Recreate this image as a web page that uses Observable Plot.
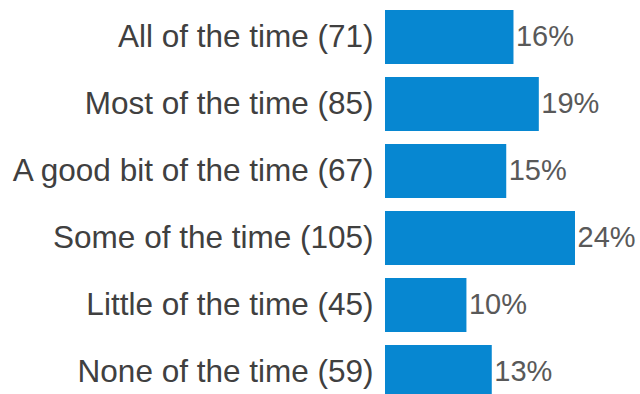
<!DOCTYPE html>
<html>
<head>
<meta charset="utf-8">
<script src="https://cdn.jsdelivr.net/npm/d3@7"></script>
<script src="https://cdn.jsdelivr.net/npm/@observablehq/plot@0.6"></script>
<style>
  html, body { margin: 0; padding: 0; background: #fff; overflow: hidden; }
  #chart svg { display: block; }
</style>
</head>
<body>
<div id="chart"></div>
<script>
const categories = ["All of the time", "Most of the time", "A good bit of the time", "Some of the time", "Little of the time", "None of the time"];
const counts = [71, 85, 67, 105, 45, 59];
const pctLabels = ["16%", "19%", "15%", "24%", "10%", "13%"];

const total = d3.sum(counts);
const data = categories.map((c, i) => ({
  label: `${c} (${counts[i]})`,
  share: counts[i] / total * 100,
  pct: pctLabels[i]
}));

const chart = Plot.plot({
  width: 640,
  height: 394,
  marginLeft: 385,
  marginRight: 65,
  style: {fontFamily: "'Liberation Sans', Arial, sans-serif", color: "#595959", background: "#fff"},
  x: {domain: [0, 105 / total * 100], axis: null},
  y: {domain: data.map(d => d.label), range: [1, 408], paddingInner: 0.2, paddingOuter: 0.1, label: null},
  marks: [
    Plot.barX(data, {y: "label", x: "share", fill: "#0787D1"}),
    Plot.text(data, {y: "label", x: "share", text: "pct", textAnchor: "start", dx: 2, dy: -1, fontSize: 29, fill: "#595959"}),
    Plot.axisY({tickSize: 0, tickPadding: 12, fontSize: 31.5, fill: "#404040", dy: -1})
  ]
});
document.getElementById("chart").append(chart);
</script>
</body>
</html>
